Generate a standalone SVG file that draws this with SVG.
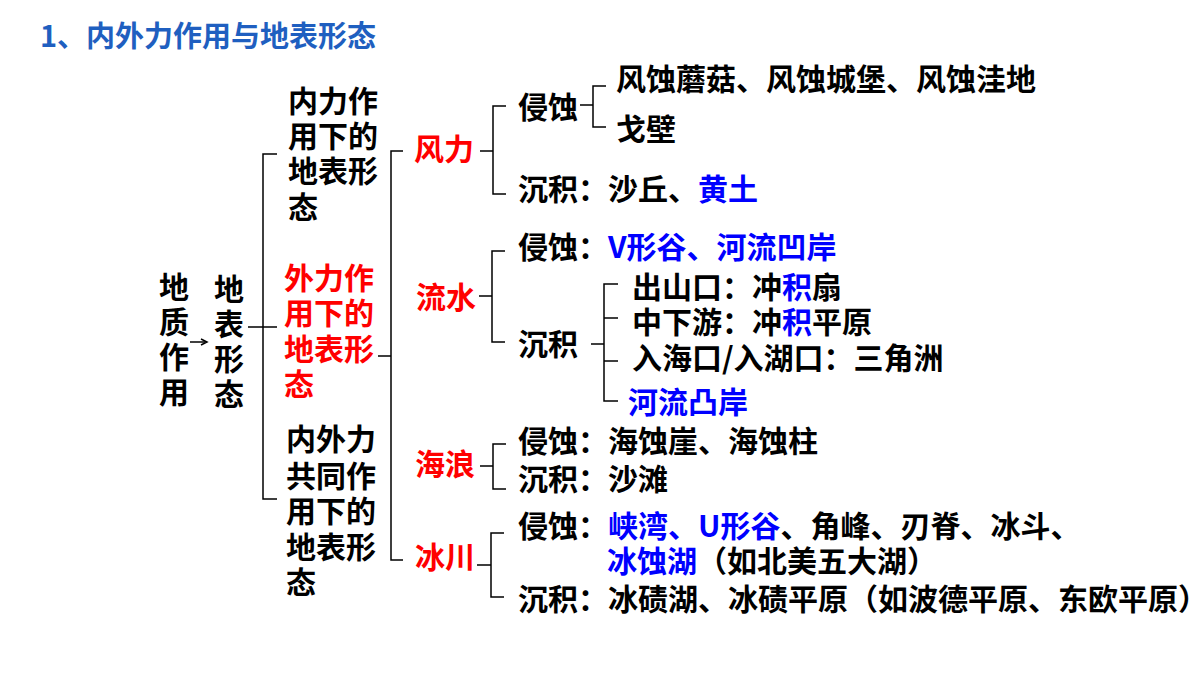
<svg xmlns="http://www.w3.org/2000/svg" width="1200" height="675" viewBox="0 0 1200 675">
<style>
text{font-family:"Noto Sans CJK SC","Liberation Sans",sans-serif;font-weight:bold;font-size:30px;fill:#000}
.r{fill:#ff0000}.b{fill:#0000ff}
.t{fill:#1f5fc0;font-size:29px}
.c{fill:none;stroke:#000;stroke-width:1.5}
</style>
<rect width="1200" height="675" fill="#fff"/>
<text class="t" x="40" y="47">1、内外力作用与地表形态</text>
<g id="n-dizhi"><text x="159" y="298">地</text><text x="159" y="333">质</text><text x="159" y="368">作</text><text x="159" y="403">用</text></g>
<g id="n-dibiao"><text x="214" y="300">地</text><text x="214" y="335">表</text><text x="214" y="370">形</text><text x="214" y="405">态</text></g>
<g id="n-neili"><text x="288" y="112">内力作</text><text x="288" y="147">用下的</text><text x="288" y="182">地表形</text><text x="288" y="218">态</text></g>
<g id="n-waili"><text class="r" x="284" y="289">外力作</text><text class="r" x="284" y="324">用下的</text><text class="r" x="284" y="360">地表形</text><text class="r" x="284" y="395">态</text></g>
<g id="n-neiwai"><text x="286" y="450">内外力</text><text x="286" y="487">共同作</text><text x="286" y="522">用下的</text><text x="286" y="558">地表形</text><text x="286" y="593">态</text></g>
<g id="n-feng"><text class="r" x="414" y="160">风力</text></g>
<g id="n-liu"><text class="r" x="416" y="308">流水</text></g>
<g id="n-hai"><text class="r" x="415" y="475">海浪</text></g>
<g id="n-bing"><text class="r" x="415" y="568">冰川</text></g>
<g id="n-feng-qs"><text x="518" y="118">侵蚀</text></g>
<g id="n-feng-1"><text x="616" y="90">风蚀蘑菇、风蚀城堡、风蚀洼地</text></g>
<g id="n-feng-2"><text x="616" y="140">戈壁</text></g>
<g id="n-feng-cj"><text x="518" y="200">沉积：沙丘、<tspan class="b">黄土</tspan></text></g>
<g id="n-liu-qs"><text x="518" y="258">侵蚀：<tspan class="b">V形谷、河流凹岸</tspan></text></g>
<g id="n-liu-cj"><text x="518" y="355">沉积</text></g>
<g id="n-liu-1"><text x="632" y="298">出山口：冲<tspan class="b">积</tspan>扇</text></g>
<g id="n-liu-2"><text x="632" y="333">中下游：冲<tspan class="b">积</tspan>平原</text></g>
<g id="n-liu-3"><text x="632" y="369">入海口/入湖口：三角洲</text></g>
<g id="n-liu-4"><text class="b" x="628" y="413">河流凸岸</text></g>
<g id="n-hai-qs"><text x="518" y="452">侵蚀：海蚀崖、海蚀柱</text></g>
<g id="n-hai-cj"><text x="518" y="490">沉积：沙滩</text></g>
<g id="n-bing-qs"><text x="518" y="537">侵蚀：<tspan class="b">峡湾、U形谷</tspan>、角峰、刃脊、冰斗、</text><text x="607" y="572"><tspan class="b">冰蚀湖</tspan>（如北美五大湖）</text></g>
<g id="n-bing-cj"><text x="518" y="610">沉积：冰碛湖、冰碛平原（如波德平原、东欧平原）</text></g>
<g id="connectors" class="c">
<path d="M190 342H205"/><path d="M201 339L207 342L201 345"/>
<path d="M248 327H277M277 154H263V499H277"/>
<path d="M378 356H391M403 151H391V560H403"/>
<path d="M480 151H493M506 106H493V194H506"/>
<path d="M580 105H593M606 86H593V127H606"/>
<path d="M479 296H492M505 251H492V342H505"/>
<path d="M591 344H604M618 284H604V401H618M604 318H618M604 361H618"/>
<path d="M480 466H493M506 444H493V489H506"/>
<path d="M477 565H491M504 533H491V597H504"/>
</g>
</svg>
